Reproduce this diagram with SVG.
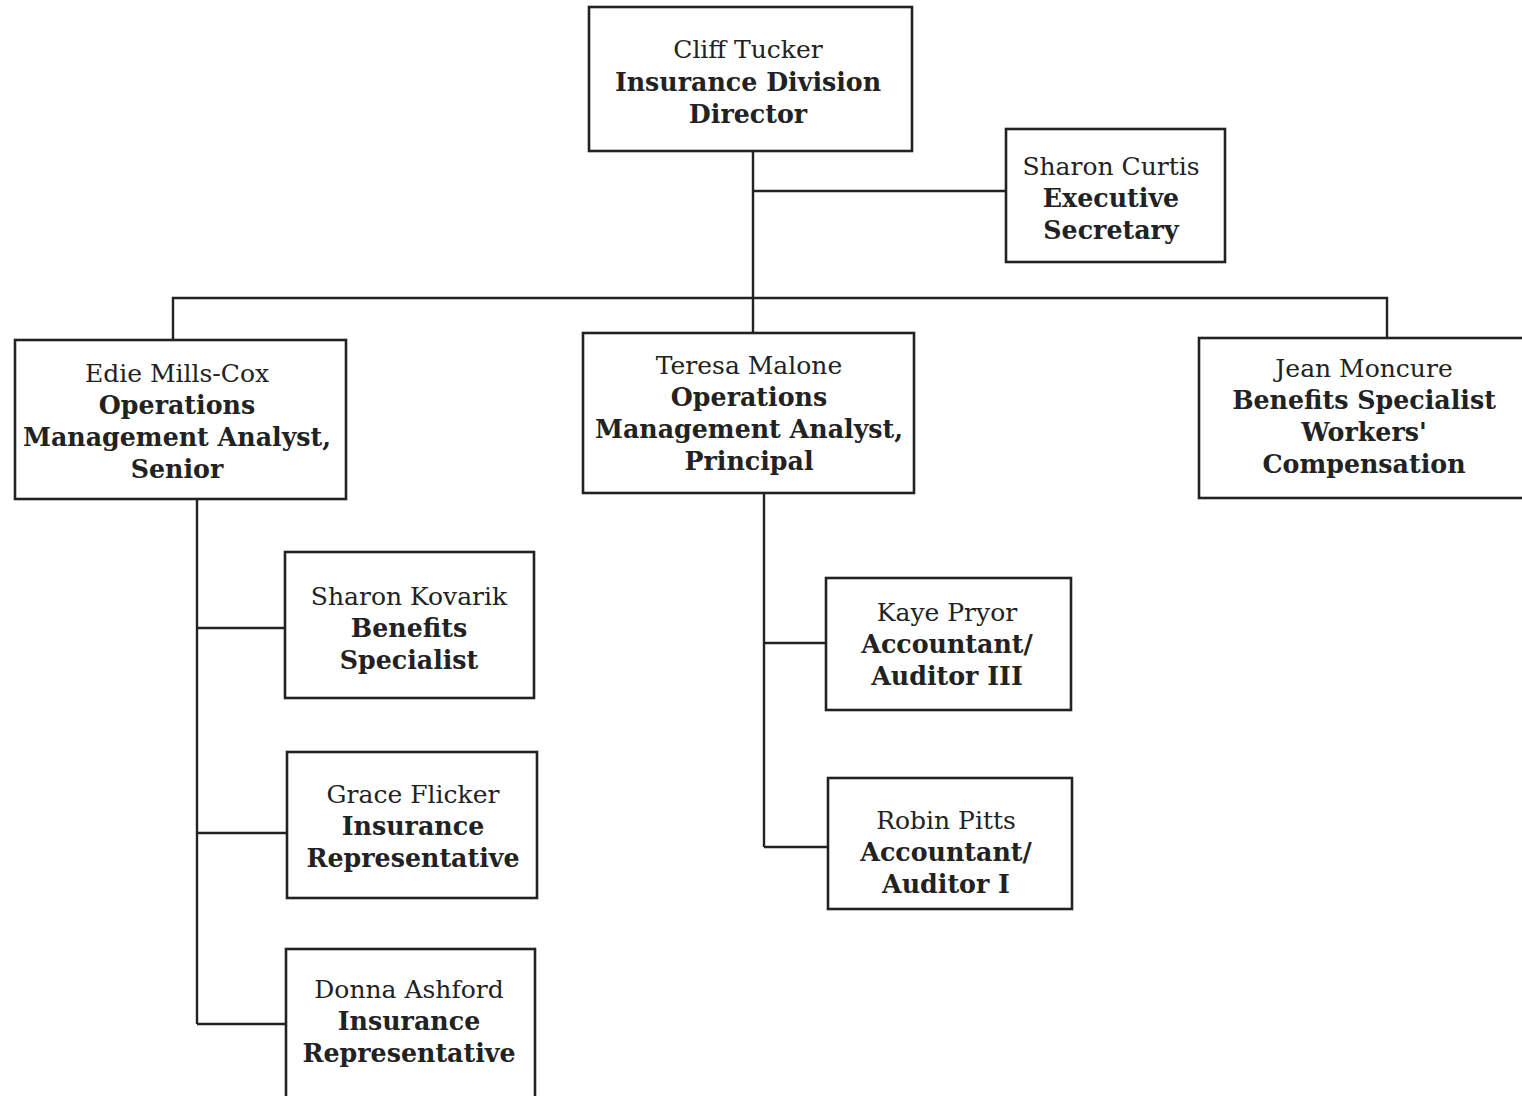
<svg xmlns="http://www.w3.org/2000/svg" width="1522" height="1096" viewBox="0 0 1522 1096">
<style>
.box{fill:#fff;stroke:#222;stroke-width:2.6}
.ln{fill:none;stroke:#222;stroke-width:2.4}
text{font-family:"DejaVu Serif",serif;fill:#222;text-anchor:middle}
.n{font-size:25px}
.t{font-size:25.3px;font-weight:bold}
</style>
<rect width="1522" height="1096" fill="#fff"/>
<g id="connectors">
<path class="ln" d="M753 151V333M753 191H1006M173 340V298H1387V338M197 500V1024M197 628H285M197 833H287M197 1024H286M764 493V847M764 643H826M764 847H828"/>
</g>
<g id="cliff"><rect class="box" x="589" y="7" width="323" height="144"/>
<text x="748" y="58" class="n">Cliff Tucker</text><text x="748" y="91" class="t">Insurance Division</text><text x="748" y="123" class="t">Director</text></g>
<g id="sharon-curtis"><rect class="box" x="1006" y="129" width="219" height="133"/>
<text x="1111" y="175" class="n">Sharon Curtis</text><text x="1111" y="207" class="t">Executive</text><text x="1111" y="239" class="t">Secretary</text></g>
<g id="edie"><rect class="box" x="15" y="340" width="331" height="159"/>
<text x="177" y="382" class="n">Edie Mills-Cox</text><text x="177" y="414" class="t">Operations</text><text x="177" y="446" class="t">Management Analyst,</text><text x="177" y="478" class="t">Senior</text></g>
<g id="teresa"><rect class="box" x="583" y="333" width="331" height="160"/>
<text x="749" y="374" class="n">Teresa Malone</text><text x="749" y="406" class="t">Operations</text><text x="749" y="438" class="t">Management Analyst,</text><text x="749" y="470" class="t">Principal</text></g>
<g id="jean"><rect class="box" x="1199" y="338" width="330" height="160"/>
<text x="1364" y="377" class="n">Jean Moncure</text><text x="1364" y="409" class="t">Benefits Specialist</text><text x="1364" y="441" class="t">Workers'</text><text x="1364" y="473" class="t">Compensation</text></g>
<g id="sharon-kovarik"><rect class="box" x="285" y="552" width="249" height="146"/>
<text x="409" y="605" class="n">Sharon Kovarik</text><text x="409" y="637" class="t">Benefits</text><text x="409" y="669" class="t">Specialist</text></g>
<g id="grace"><rect class="box" x="287" y="752" width="250" height="146"/>
<text x="413" y="803" class="n">Grace Flicker</text><text x="413" y="835" class="t">Insurance</text><text x="413" y="867" class="t">Representative</text></g>
<g id="donna"><rect class="box" x="286" y="949" width="249" height="150"/>
<text x="409" y="998" class="n">Donna Ashford</text><text x="409" y="1030" class="t">Insurance</text><text x="409" y="1062" class="t">Representative</text></g>
<g id="kaye"><rect class="box" x="826" y="578" width="245" height="132"/>
<text x="947" y="621" class="n">Kaye Pryor</text><text x="947" y="653" class="t">Accountant/</text><text x="947" y="685" class="t">Auditor III</text></g>
<g id="robin"><rect class="box" x="828" y="778" width="244" height="131"/>
<text x="946" y="829" class="n">Robin Pitts</text><text x="946" y="861" class="t">Accountant/</text><text x="946" y="893" class="t">Auditor I</text></g>
</svg>
